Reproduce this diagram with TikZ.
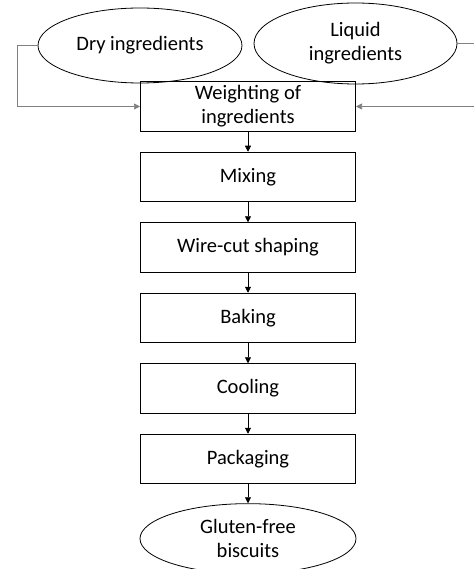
\documentclass[tikz,border=0pt]{standalone}
\usepackage{fontspec}
\setmainfont{Carlito}
\usetikzlibrary{positioning,arrows.meta,shapes.geometric}

\begin{document}
\begin{tikzpicture}[
    x=1pt, y=-1pt,
    stepbox/.style={draw, line width=1pt, minimum width=215pt, minimum height=49.5pt, align=center, font=\fontsize{20.5}{24}\selectfont, inner sep=2pt},
    oval/.style={draw, ellipse, line width=0.8pt, inner sep=0pt, align=center, font=\fontsize{20.5}{24}\selectfont},
    flow/.style={-{Triangle[length=6pt,width=6pt]}, line width=0.7pt},
    side/.style={-{Triangle[length=6pt,width=6pt]}, line width=0.7pt, gray},
    node distance=20pt,
]
    \useasboundingbox (0,0) rectangle (473,569);

    \node[oval, minimum width=204pt, minimum height=75pt] (dry) at (140,45.5) {Dry ingredients};
    \node[oval, minimum width=203pt, minimum height=81pt] (liquid) at (355.5,43.5) {Liquid\\ingredients};

    \node[stepbox] (weigh) at (248,106.5) {Weighting of\\ingredients};
    \node[stepbox, below=of weigh] (mix) {Mixing};
    \node[stepbox, below=of mix] (shape) {Wire-cut shaping};
    \node[stepbox, below=of shape] (bake) {Baking};
    \node[stepbox, below=of bake] (cool) {Cooling};
    \node[stepbox, below=of cool] (pack) {Packaging};
    \node[oval, minimum width=216pt, minimum height=70pt, below=19pt of pack] (biscuit) {Gluten-free\\biscuits};

    % side inputs
    \coordinate (lcorner) at (17,106.5);
    \coordinate (rcorner) at (480,106.5);
    \draw[side] (dry.west) -| (lcorner) -- (weigh.west);
    \draw[side] (liquid.east) -| (rcorner) -- (weigh.east);

    \draw[flow] (weigh) -- (mix);
    \draw[flow] (mix) -- (shape);
    \draw[flow] (shape) -- (bake);
    \draw[flow] (bake) -- (cool);
    \draw[flow] (cool) -- (pack);
    \draw[flow] (pack) -- (biscuit);
\end{tikzpicture}
\end{document}
